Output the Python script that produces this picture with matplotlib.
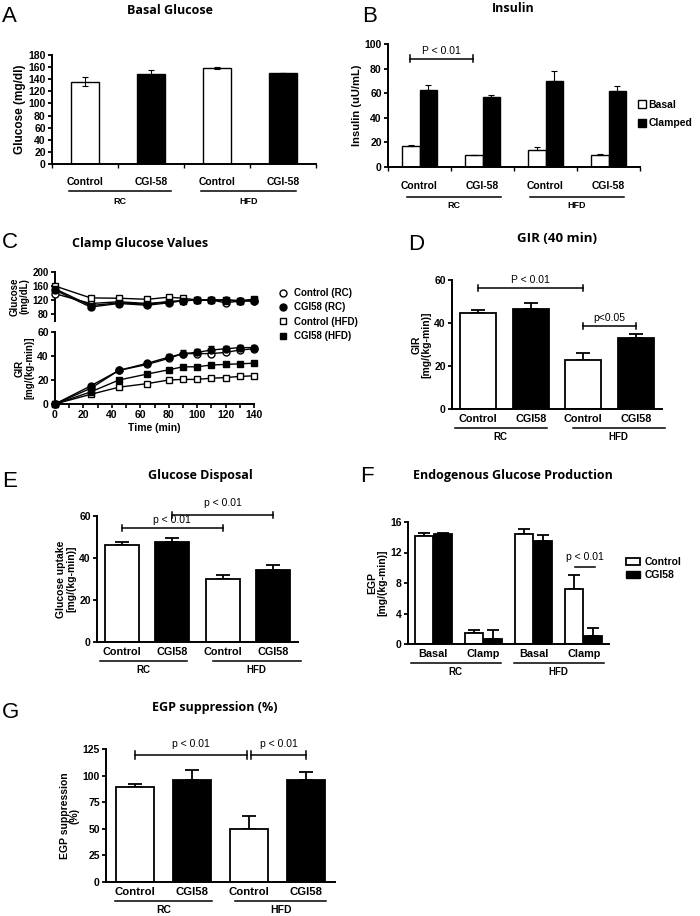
import matplotlib
matplotlib.use("Agg")
import matplotlib.pyplot as plt
from matplotlib.patches import Patch
from matplotlib.lines import Line2D
import numpy as np

plt.rcParams['font.family'] = ['Liberation Sans', 'DejaVu Sans']
plt.rcParams['font.weight'] = 'bold'

W, H = 700, 916

# ---------------- data ----------------
groups4 = ["Control", "CGI-58", "Control", "CGI-58"]
groups4b = ["Control", "CGI58", "Control", "CGI58"]
diets = ["RC", "HFD"]

# A: basal glucose
a_vals = [136, 149, 159, 150]
a_err = [8, 7, 2, 0]

# B: insulin
b_basal = [17, 9.5, 13.5, 10]
b_basal_err = [1, 0.6, 2.5, 0.6]
b_clamped = [63, 57, 70, 62]
b_clamped_err = [4, 1.2, 8, 4]

# C: clamp time course
c_time = [0, 25, 45, 65, 80, 90, 100, 110, 120, 130, 140]
c_series = ["Control (RC)", "CGI58 (RC)", "Control (HFD)", "CGI58 (HFD)"]
c_glu_ctrl_rc = [138, 110, 115, 110, 115, 118, 120, 120, 112, 117, 117]
c_glu_cgi_rc = [148, 100, 110, 105, 112, 118, 120, 120, 120, 118, 118]
c_glu_ctrl_hfd = [160, 126, 125, 122, 128, 125, 120, 120, 120, 118, 122]
c_glu_cgi_hfd = [152, 104, 112, 108, 115, 118, 120, 120, 118, 118, 120]
c_gir_ctrl_rc = [0, 13, 28, 33, 38, 42, 42, 42, 43, 45, 46]
c_gir_cgi_rc = [0, 15, 28, 34, 39, 42, 43, 45, 46, 47, 47]
c_gir_cgi_rc_err = [0, 1, 1, 1, 2.5, 3, 3, 3, 2, 2, 2]
c_gir_ctrl_hfd = [0, 8, 14, 17, 20, 20.5, 20.5, 21.5, 22, 23, 23.5]
c_gir_cgi_hfd = [0, 10, 20, 25, 28.5, 31, 31, 32.5, 33, 33.5, 34]

# D: GIR (40 min)
d_vals = [44.5, 46.5, 23, 33]
d_err = [1.5, 3, 3, 2]

# E: glucose disposal
e_vals = [46, 47.5, 30, 34.5]
e_err = [1.5, 2, 2, 2]

# F: EGP
f_cats = ["Basal", "Clamp", "Basal", "Clamp"]
f_ctrl = [14.2, 1.5, 14.4, 7.2]
f_ctrl_err = [0.4, 0.4, 0.7, 1.9]
f_cgi = [14.4, 0.6, 13.5, 1.1]
f_cgi_err = [0.2, 1.2, 0.8, 1.0]

# G: EGP suppression
g_vals = [89, 96, 49.5, 96]
g_err = [3, 9, 13, 7]

bar_colors = ["white", "black", "white", "black"]

fig = plt.figure(figsize=(W / 100, H / 100), dpi=100)


def add_ax(x0, y0, x1, y1, tfs=7.5):
    ax = fig.add_axes([x0 / W, 1 - y1 / H, (x1 - x0) / W, (y1 - y0) / H])
    ax._hpx = y1 - y0
    ax._tfs = tfs
    for s in ["top", "right"]:
        ax.spines[s].set_visible(False)
    for s in ["left", "bottom"]:
        ax.spines[s].set_linewidth(1.4)
    ax.tick_params(axis="y", direction="out", length=3, width=1.3, labelsize=tfs, pad=1.5)
    return ax


def fy(px_y):
    return 1 - px_y / H


def fx(px_x):
    return px_x / W


def cat_labels(ax, xs, labels, dy_lab, dy_line, dy_grp, spans, grp_labels, fs=7.8, gfs=7):
    tr = ax.get_xaxis_transform()
    for x, l in zip(xs, labels):
        ax.annotate(l, xy=(x, 0), xycoords=tr, xytext=(0, -dy_lab * 0.72),
                    textcoords="offset points", ha="center", va="center",
                    fontsize=fs, fontweight="bold")
    yl = -dy_line / ax._hpx
    for (xa, xb), g in zip(spans, grp_labels):
        ax.plot([xa, xb], [yl, yl], color="black", lw=1.1, transform=tr, clip_on=False)
        ax.annotate(g, xy=((xa + xb) / 2, 0), xycoords=tr, xytext=(0, -dy_grp * 0.72),
                    textcoords="offset points", ha="center", va="center",
                    fontsize=gfs, fontweight="bold")


def sig(ax, xa, xb, y, text, dtext, fs=7.5, caps=True, capsize=None):
    ax.plot([xa, xb], [y, y], color="black", lw=1.1, clip_on=False)
    if caps:
        cs = capsize
        ax.plot([xa, xa], [y - cs, y + cs], color="black", lw=1.1, clip_on=False)
        ax.plot([xb, xb], [y - cs, y + cs], color="black", lw=1.1, clip_on=False)
    ax.text((xa + xb) / 2, y + dtext, text, ha="center", va="center", fontsize=fs,
            fontweight="normal", clip_on=False)


def title(x, y, t, fs=9):
    fig.text(fx(x), fy(y), t, ha="center", va="center", fontsize=fs, fontweight="bold",
             family=["Open Sans", "DejaVu Sans"])


def letter(x, y, t):
    fig.text(fx(x), fy(y), t, ha="left", va="center", fontsize=16, fontweight="normal",
             family=["Liberation Sans", "DejaVu Sans"])


def boldticks(ax):
    for lab in ax.get_yticklabels() + ax.get_xticklabels():
        lab.set_fontweight("bold")


xs4 = np.arange(4)

# ---------------- A ----------------
letter(2, 16, "A")
title(170, 10, "Basal Glucose")
axA = add_ax(52, 55, 316, 164, tfs=7.5)
axA.bar(xs4, a_vals, width=0.41, color=bar_colors, edgecolor="black", linewidth=1.0, zorder=2)
axA.errorbar(xs4, a_vals, yerr=a_err, fmt="none", ecolor="black", elinewidth=0.8, capsize=2, capthick=0.8, zorder=3)
axA.set_ylim(0, 180)
axA.set_yticks(np.arange(0, 181, 20))
axA.set_xlim(-0.5, 3.5)
axA.set_xticks([])
axA.set_xticks(np.arange(-0.5, 3.6, 1), minor=True)
axA.tick_params(axis="x", which="minor", direction="out", length=3, width=1.0)
axA.set_ylabel("Glucose (mg/dl)", fontsize=8.5, fontweight="bold", labelpad=2)
cat_labels(axA, xs4, groups4, 18, 27, 37, [(-0.25, 1.3), (1.75, 3.2)], diets, fs=7.5, gfs=6.5)
boldticks(axA)

# ---------------- B ----------------
letter(362, 16, "B")
title(513, 8, "Insulin")
axB = add_ax(388, 44, 640, 167, tfs=7.5)
bw = 0.28
axB.bar(xs4 - bw / 2, b_basal, width=bw, color="white", edgecolor="black", linewidth=1.0, zorder=2)
axB.bar(xs4 + bw / 2, b_clamped, width=bw, color="black", edgecolor="black", linewidth=1.0, zorder=2)
axB.errorbar(xs4 - bw / 2, b_basal, yerr=[[0] * 4, b_basal_err], fmt="none", ecolor="black", elinewidth=0.8, capsize=2, capthick=0.8, zorder=3)
axB.errorbar(xs4 + bw / 2, b_clamped, yerr=[[0] * 4, b_clamped_err], fmt="none", ecolor="black", elinewidth=0.8, capsize=2, capthick=0.8, zorder=3)
axB.set_ylim(0, 100)
axB.set_yticks(np.arange(0, 101, 20))
axB.set_xlim(-0.5, 3.5)
axB.set_xticks([])
axB.set_xticks(np.arange(-0.5, 3.6, 1), minor=True)
axB.tick_params(axis="x", which="minor", direction="out", length=3, width=1.0)
axB.set_ylabel("Insulin (uU/mL)", fontsize=8, fontweight="bold", labelpad=2)
cat_labels(axB, xs4, groups4, 19, 30, 39, [(-0.2, 1.3), (1.75, 3.25)], diets, fs=7.5, gfs=6.5)
sig(axB, 0 - 0.15, 1 - 0.15, 88, "P < 0.01", 6.5, fs=7.5, capsize=3)
axB.legend(handles=[Patch(facecolor="white", edgecolor="black"), Patch(facecolor="black", edgecolor="black")],
           labels=["Basal", "Clamped"], loc="upper left", bbox_to_anchor=(fx(638), fy(100)),
           bbox_transform=fig.transFigure, frameon=False, handlelength=0.8, handleheight=0.8,
           handletextpad=0.2, labelspacing=0.8, borderaxespad=0, borderpad=0,
           prop={"size": 7.5, "weight": "bold"})
boldticks(axB)

# ---------------- C ----------------
letter(2, 242, "C")
title(140, 243, "Clamp Glucose Values")
axCg = add_ax(55, 272, 254, 321, tfs=7)
axCi = add_ax(55, 332, 254, 404, tfs=7.5)
styles = [dict(marker="o", mfc="white"), dict(marker="o", mfc="black"),
          dict(marker="s", mfc="white"), dict(marker="s", mfc="black")]
glu = [c_glu_ctrl_rc, c_glu_cgi_rc, c_glu_ctrl_hfd, c_glu_cgi_hfd]
gir = [c_gir_ctrl_rc, c_gir_cgi_rc, c_gir_ctrl_hfd, c_gir_cgi_hfd]
for i in range(4):
    axCg.plot(c_time, glu[i], color="black", lw=1.0, ms=5, mec="black", mew=1.0,
              clip_on=False, zorder=3, **styles[i])
    axCi.plot(c_time, gir[i], color="black", lw=1.0, ms=5, mec="black", mew=1.0,
              clip_on=False, zorder=3, label=c_series[i], **styles[i])
axCi.errorbar(c_time, c_gir_cgi_rc, yerr=[[0] * len(c_time), c_gir_cgi_rc_err], fmt="none",
              ecolor="black", elinewidth=1.0, capsize=2.5, capthick=1.0, zorder=2)
axCg.set_ylim(60, 200)
axCg.set_yticks([80, 120, 160, 200])
axCg.set_xlim(0, 140)
axCg.spines["bottom"].set_visible(False)
axCg.set_xticks([])
axCg.set_ylabel("Glucose\n(mg/dL)", fontsize=7, fontweight="bold", labelpad=2, linespacing=1.0)
axCi.set_ylim(0, 60)
axCi.set_yticks([0, 20, 40, 60])
axCi.set_xlim(0, 140)
axCi.set_xticks(np.arange(0, 141, 20))
axCi.set_xticks(np.arange(10, 140, 20), minor=True)
axCi.tick_params(axis="x", which="both", direction="out", length=3, width=1.2, labelsize=7.5, pad=1.5)
axCi.set_xlabel("Time (min)", fontsize=7.5, fontweight="bold", labelpad=2)
axCi.set_ylabel("GIR\n[mg/(kg-min)]", fontsize=7, fontweight="bold", labelpad=2, linespacing=1.0)
handles = [Line2D([], [], ls="none", mec="black", mew=1.0, ms=5, **styles[i]) for i in range(4)]
axCi.legend(handles=handles, labels=c_series, loc="upper left", bbox_to_anchor=(fx(278), fy(288)),
            bbox_transform=fig.transFigure, frameon=False, handlelength=1.0, handletextpad=0.6,
            labelspacing=0.45, borderaxespad=0, borderpad=0, prop={"size": 7, "weight": "bold"})
boldticks(axCg)
boldticks(axCi)

# ---------------- D ----------------
letter(408, 245, "D")
title(557, 238, "GIR (40 min)", fs=9.5)
axD = add_ax(452, 280, 662, 409)
axD.bar(xs4, d_vals, width=0.68, color=bar_colors, edgecolor="black", linewidth=1.3, zorder=2)
axD.errorbar(xs4, d_vals, yerr=[[0] * 4, d_err], fmt="none", ecolor="black", elinewidth=1.3, capsize=5, capthick=1.3, zorder=1)
axD.set_ylim(0, 60)
axD.set_yticks([0, 20, 40, 60])
axD.set_xlim(-0.5, 3.5)
axD.set_xticks([])
axD.set_ylabel("GIR\n[mg/(kg-min)]", fontsize=7.5, fontweight="bold", labelpad=2, linespacing=1.0)
cat_labels(axD, xs4, groups4b, 10, 19, 28, [(-0.45, 1.3), (1.8, 3.55)], diets)
sig(axD, 0, 2, 56.3, "P < 0.01", 3.5, capsize=1.5)
sig(axD, 2, 3, 38.6, "p<0.05", 3.5, capsize=1.5)
boldticks(axD)

# ---------------- E ----------------
letter(2, 482, "E")
title(200, 475, "Glucose Disposal")
axE = add_ax(97, 516, 298, 642)
axE.bar(xs4, e_vals, width=0.68, color=bar_colors, edgecolor="black", linewidth=1.3, zorder=2)
axE.errorbar(xs4, e_vals, yerr=[[0] * 4, e_err], fmt="none", ecolor="black", elinewidth=1.3, capsize=5, capthick=1.3, zorder=1)
axE.set_ylim(0, 60)
axE.set_yticks([0, 20, 40, 60])
axE.set_xlim(-0.5, 3.5)
axE.set_xticks([])
axE.set_ylabel("Glucose uptake\n[mg/(kg-min)]", fontsize=7.5, fontweight="bold", labelpad=2, linespacing=1.0)
cat_labels(axE, xs4, groups4b, 10, 19, 28, [(-0.45, 1.3), (1.8, 3.55)], diets)
sig(axE, 0, 2, 54.3, "p < 0.01", 3.8, capsize=1.5)
sig(axE, 1, 3, 60.5, "p < 0.01", 5.7, capsize=1.5)
boldticks(axE)

# ---------------- F ----------------
letter(360, 477, "F")
title(513, 475, "Endogenous Glucose Production")
axF = add_ax(408, 522, 609, 644)
fw = 0.36
axF.bar(xs4 - fw / 2 - 0.01, f_ctrl, width=fw, color="white", edgecolor="black", linewidth=1.3, zorder=2)
axF.bar(xs4 + fw / 2 + 0.01, f_cgi, width=fw, color="black", edgecolor="black", linewidth=1.3, zorder=2)
axF.errorbar(xs4 - fw / 2 - 0.01, f_ctrl, yerr=[[0] * 4, f_ctrl_err], fmt="none", ecolor="black", elinewidth=1.3, capsize=4, capthick=1.3, zorder=1)
axF.errorbar(xs4 + fw / 2 + 0.01, f_cgi, yerr=[[0] * 4, f_cgi_err], fmt="none", ecolor="black", elinewidth=1.3, capsize=4, capthick=1.3, zorder=3)
axF.set_ylim(0, 16)
axF.set_yticks([0, 4, 8, 12, 16])
axF.set_xlim(-0.5, 3.5)
axF.set_xticks([])
axF.set_ylabel("EGP\n[mg/(kg-min)]", fontsize=7.5, fontweight="bold", labelpad=2, linespacing=1.0)
cat_labels(axF, xs4, f_cats, 10, 19, 28, [(-0.45, 1.35), (1.6, 3.4)], diets)
axF.plot([3 - 0.18, 3 + 0.22], [10.1, 10.1], color="black", lw=1.1)
axF.text(3.02, 11.4, "p < 0.01", ha="center", va="center", fontsize=7.5, fontweight="normal")
axF.legend(handles=[Patch(facecolor="white", edgecolor="black", linewidth=1.3), Patch(facecolor="black", edgecolor="black")],
           labels=["Control", "CGI58"], loc="upper left", bbox_to_anchor=(fx(626), fy(557)),
           bbox_transform=fig.transFigure, frameon=False, handlelength=1.3, handleheight=0.7,
           handletextpad=0.5, labelspacing=0.3, borderaxespad=0, borderpad=0,
           prop={"size": 7.5, "weight": "bold"})
boldticks(axF)

# ---------------- G ----------------
letter(2, 713, "G")
title(215, 708, "EGP suppression (%)")
axG = add_ax(106, 749, 335, 882)
axG.bar(xs4, g_vals, width=0.66, color=bar_colors, edgecolor="black", linewidth=1.3, zorder=2)
axG.errorbar(xs4, g_vals, yerr=[[0] * 4, g_err], fmt="none", ecolor="black", elinewidth=1.3, capsize=5, capthick=1.3, zorder=1)
axG.set_ylim(0, 125)
axG.set_yticks(np.arange(0, 126, 25))
axG.set_xlim(-0.5, 3.5)
axG.set_xticks([])
axG.set_ylabel("EGP suppression\n(%)", fontsize=7.5, fontweight="bold", labelpad=2, linespacing=1.0)
cat_labels(axG, xs4, groups4b, 10, 19, 28, [(-0.35, 1.35), (1.75, 3.35)], diets, fs=8.2, gfs=7.5)
sig(axG, 0, 1.97, 119.4, "p < 0.01", 10, capsize=3.5)
sig(axG, 2.03, 3, 119.4, "p < 0.01", 10, capsize=3.5)
boldticks(axG)

fig.savefig("out.png", dpi=100)
